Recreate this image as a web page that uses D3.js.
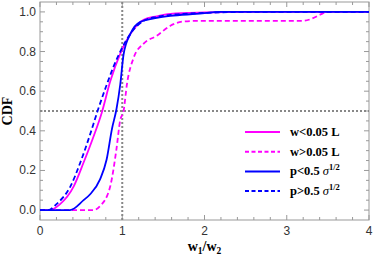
<!DOCTYPE html>
<html>
<head>
<meta charset="utf-8">
<script src="https://cdn.jsdelivr.net/npm/d3@7"></script>
<style>
  body { margin: 0; background: #fff; }
  svg { display: block; }
</style>
</head>
<body>
<div id="chart"></div>
<script>
// series data
const wSmallX = [0, 0.12, 0.244, 0.41, 0.53, 0.65, 0.75, 0.854, 0.976, 1.1, 1.26, 1.42, 1.585, 2.0, 2.5, 4];
const wSmallY = [0, 0, 0.03, 0.12, 0.24, 0.37, 0.49, 0.65, 0.79, 0.89, 0.96, 0.978, 0.99, 0.997, 1, 1];

const wLargeX = [0, 0.65, 0.73, 0.854, 0.927, 0.976, 1.016, 1.057, 1.14, 1.26, 1.42, 1.585, 1.75, 1.95, 3.2, 3.3, 3.4, 3.5, 4];
const wLargeY = [0, 0, 0.02, 0.12, 0.30, 0.455, 0.5, 0.635, 0.77, 0.84, 0.88, 0.93, 0.952, 0.955, 0.955, 0.965, 0.985, 1, 1];

const pSmallX = [0, 0.365, 0.53, 0.61, 0.73, 0.81, 0.875, 0.93, 0.976, 1.016, 1.1, 1.22, 1.42, 1.585, 1.9, 2.2, 4];
const pSmallY = [0, 0, 0.05, 0.08, 0.155, 0.255, 0.41, 0.51, 0.635, 0.785, 0.89, 0.95, 0.97, 0.98, 0.99, 1, 1];

const pLargeX = [0, 0.1, 0.2, 0.37, 0.49, 0.6, 0.7, 0.8, 0.9, 0.976, 1.1, 1.26, 1.42, 1.585, 2.0, 2.5, 4];
const pLargeY = [0, 0, 0.03, 0.12, 0.24, 0.37, 0.5, 0.62, 0.73, 0.8, 0.89, 0.955, 0.975, 0.985, 0.995, 1, 1];

const legendLabels = ["w<0.05 L", "w>0.05 L", "p<0.5 ", "p>0.5 "];
const xTicks = [0, 1, 2, 3, 4];
const yTicks = [0, 0.2, 0.4, 0.6, 0.8, 1.0];

const width = 374, height = 257;
const margin = { top: 2, right: 5, bottom: 37, left: 40 };

const svg = d3.select("#chart").append("svg")
    .attr("width", width)
    .attr("height", height);

const x = d3.scaleLinear().domain([0, 4]).range([margin.left, width - margin.right]);
const y = d3.scaleLinear().domain([-0.05, 1.05]).range([height - margin.bottom, margin.top]);

const frameColor = "#999";

// frame
svg.append("rect")
    .attr("x", x(0)).attr("y", y(1.05))
    .attr("width", x(4) - x(0)).attr("height", y(-0.05) - y(1.05))
    .attr("fill", "none").attr("stroke", frameColor).attr("stroke-width", 1);

// ticks (inside, all four sides)
const xMinor = d3.range(0, 4.001, 0.2);
const yMinor = d3.range(0, 1.001, 0.05);
const isMajor = (v, step) => Math.abs(v / step - Math.round(v / step)) < 1e-6;

xMinor.forEach(v => {
  const len = isMajor(v, 1) ? 5 : 3;
  svg.append("line").attr("x1", x(v)).attr("x2", x(v))
      .attr("y1", y(-0.05)).attr("y2", y(-0.05) - len)
      .attr("stroke", frameColor);
  svg.append("line").attr("x1", x(v)).attr("x2", x(v))
      .attr("y1", y(1.05)).attr("y2", y(1.05) + len)
      .attr("stroke", frameColor);
});
yMinor.forEach(v => {
  const len = isMajor(v, 0.2) ? 5 : 3;
  svg.append("line").attr("y1", y(v)).attr("y2", y(v))
      .attr("x1", x(0)).attr("x2", x(0) + len)
      .attr("stroke", frameColor);
  svg.append("line").attr("y1", y(v)).attr("y2", y(v))
      .attr("x1", x(4)).attr("x2", x(4) - len)
      .attr("stroke", frameColor);
});

// tick labels
svg.selectAll(".xt").data(xTicks).enter().append("text")
    .attr("x", d => x(d)).attr("y", y(-0.05) + 15)
    .attr("text-anchor", "middle")
    .attr("font-family", "Liberation Sans, Arial, sans-serif")
    .attr("font-size", 12).attr("fill", "#333")
    .text(d => d);
svg.selectAll(".yt").data(yTicks).enter().append("text")
    .attr("x", x(0) - 4).attr("y", d => y(d) + 4)
    .attr("text-anchor", "end")
    .attr("font-family", "Liberation Sans, Arial, sans-serif")
    .attr("font-size", 12).attr("fill", "#333")
    .text(d => d.toFixed(1));

// reference lines
svg.append("line")
    .attr("x1", x(1)).attr("x2", x(1)).attr("y1", y(1.05)).attr("y2", y(-0.05))
    .attr("stroke", "#888").attr("stroke-width", 2).attr("stroke-dasharray", "2,2");
svg.append("line")
    .attr("x1", x(0)).attr("x2", x(4)).attr("y1", y(0.5)).attr("y2", y(0.5))
    .attr("stroke", "#888").attr("stroke-width", 2).attr("stroke-dasharray", "2,2");

// curves
const line = d3.line()
    .x(d => x(d[0]))
    .y(d => y(d[1]))
    .curve(d3.curveMonotoneX);

const series = [
  { xs: wSmallX, ys: wSmallY, color: "#ff00ff", dash: null },
  { xs: wLargeX, ys: wLargeY, color: "#ff00ff", dash: "5,3" },
  { xs: pSmallX, ys: pSmallY, color: "#0000ff", dash: null },
  { xs: pLargeX, ys: pLargeY, color: "#0000ff", dash: "5,3" }
];

series.forEach(s => {
  svg.append("path")
      .datum(d3.zip(s.xs, s.ys))
      .attr("fill", "none")
      .attr("stroke", s.color)
      .attr("stroke-width", 1.8)
      .attr("stroke-dasharray", s.dash)
      .attr("d", line);
});

// legend
const legend = svg.append("g");
series.forEach((s, i) => {
  const ly = 132 + i * 19.7;
  legend.append("line")
      .attr("x1", 245).attr("x2", 280).attr("y1", ly).attr("y2", ly)
      .attr("stroke", s.color).attr("stroke-width", 2)
      .attr("stroke-dasharray", s.dash ? "4,2.5" : null);
  const t = legend.append("text")
      .attr("x", 290).attr("y", ly + 4)
      .attr("font-family", "Liberation Serif, Times New Roman, serif")
      .attr("font-weight", "bold").attr("font-size", 12.5).attr("fill", "#000");
  t.append("tspan").text(legendLabels[i]);
  if (i >= 2) {
    t.append("tspan").attr("font-style", "italic").attr("font-weight", "normal").text("σ");
    t.append("tspan").attr("dy", -5).attr("font-size", 8.5).text("1/2");
  }
});

// axis titles
const xt = svg.append("text")
    .attr("x", x(2)).attr("y", 251)
    .attr("text-anchor", "middle")
    .attr("font-family", "Liberation Serif, Times New Roman, serif")
    .attr("font-weight", "bold").attr("font-size", 14).attr("fill", "#000");
xt.append("tspan").text("w");
xt.append("tspan").attr("dy", 3).attr("font-size", 9.5).text("1");
xt.append("tspan").attr("dy", -3).text("/w");
xt.append("tspan").attr("dy", 3).attr("font-size", 9.5).text("2");

svg.append("text")
    .attr("transform", `translate(12, ${y(0.5)}) rotate(-90)`)
    .attr("text-anchor", "middle")
    .attr("font-family", "Liberation Serif, Times New Roman, serif")
    .attr("font-weight", "bold").attr("font-size", 14).attr("fill", "#000")
    .text("CDF");
</script>
</body>
</html>
